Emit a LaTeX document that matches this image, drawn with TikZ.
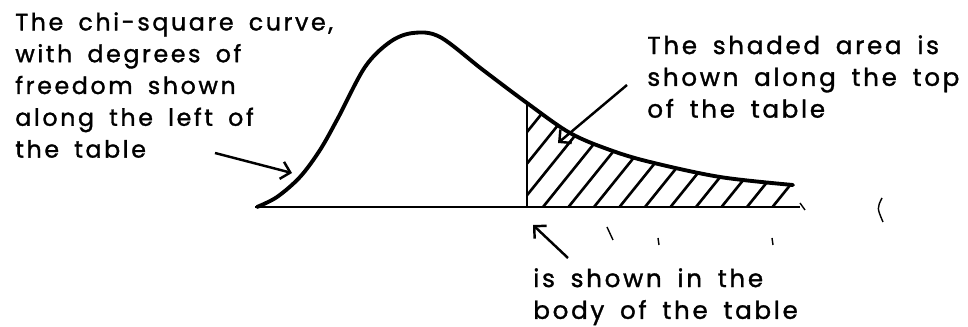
\documentclass[tikz,border=0pt]{standalone}
\usepackage{fontspec}
\setmainfont{Poppins}[LetterSpace=11,WordSpace=1.7,FakeBold=1.3]
\usepackage{tikz}
\usetikzlibrary{arrows.meta}

\tikzset{
  note/.style={anchor=north west, inner sep=0pt, align=left,
    font=\fontsize{13.5}{18.1}\selectfont},
  pointer/.style={line width=1.4pt, -{Straight Barb[length=5pt,width=10pt]}},
  hatchline/.style={line width=1.5pt}
}
\newcommand{\chicurve}{plot[smooth,tension=0.55] coordinates {(257,207) (277,197) (300,177) (320,150) (338,118) (365,67) (390,42) (413,33) (440,37) (483,70) (527,103) (570,133) (610,150) (650,162) (720,177) (793,185)}}

\begin{document}
\begin{tikzpicture}[x=0.02cm,y=-0.02cm]
\useasboundingbox (0,0) rectangle (968,327);

% shaded tail
\begin{scope}
  \clip (527,0) rectangle (800,207);
  \clip \chicurve -- (793,207) -- (257,207) -- cycle;
  \foreach \k in {-3,...,10}
    \draw[hatchline] ({543+25.5*\k},207) -- ++(100,-124);
\end{scope}

% curve and axis
\draw[line width=2.2pt, line cap=round] \chicurve;
\draw[line width=1.7pt] (255,207) -- (800,207);
\draw[line width=1.6pt] (527,207) -- (527,104);

% labels
\node[note] (curvenote) at (15,12)
  {The chi-square curve,\\with degrees of\\freedom shown\\along the left of\\the table};
\node[note, font=\fontsize{14}{18.1}\selectfont] (areanote) at (647,35)
  {The shaded area is\\shown along the top\\of the table};
\node[note, font=\fontsize{14}{18.1}\selectfont] (bodynote) at (533,268)
  {is shown in the\\body of the table};

% pointers
\coordinate (curvefrom) at (215,153);
\coordinate (curveto) at (292,173);
\coordinate (areafrom) at (627,85);
\coordinate (areato) at (558,143);
\coordinate (bodyfrom) at (568,258);
\coordinate (bodyto) at (533,225);
\draw[pointer] (curvefrom) -- (curveto);
\draw[pointer] (areafrom) -- (areato);
\draw[pointer] (bodyfrom) -- (bodyto);

% stray pencil marks
\draw[line width=0.8pt] (882,198) .. controls (877,208) .. (883,222);
\draw[line width=0.8pt] (607,227) -- (613,240);
\draw[line width=0.8pt] (658,238) -- (659,245);
\draw[line width=0.8pt] (772,238) -- (773,245);
\draw[line width=0.8pt] (800,203) -- (805,210);
\end{tikzpicture}
\end{document}
